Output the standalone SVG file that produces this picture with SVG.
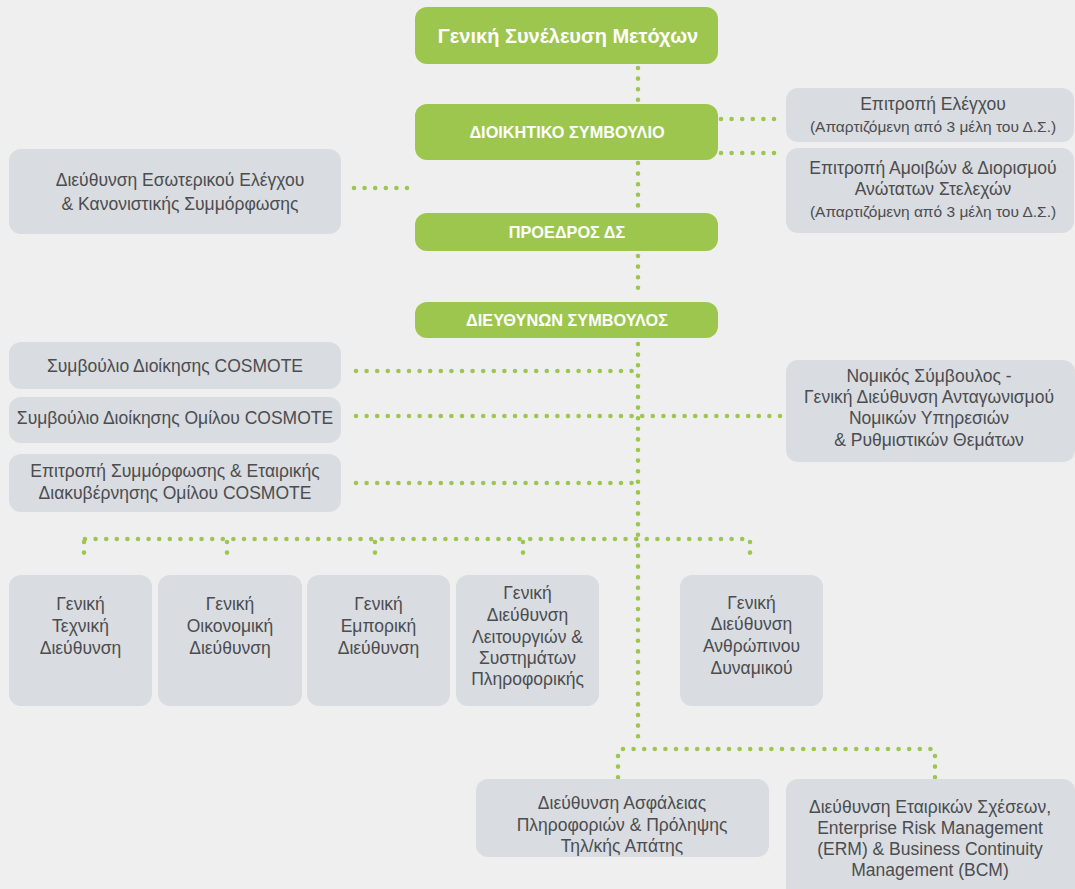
<svg xmlns="http://www.w3.org/2000/svg" width="1075" height="889" viewBox="0 0 1075 889">
<style>
.g{fill:#9dc64e}
.b{fill:#d9dce0}
.tw{font-family:"Liberation Sans",Arial,sans-serif;font-weight:bold;fill:#ffffff;text-anchor:middle}
.t{font-family:"Liberation Sans",Arial,sans-serif;font-size:17.5px;fill:#4b4d50;text-anchor:middle}
.s{font-size:15.5px}
.d{stroke:#9dc64e;stroke-width:4.6;stroke-linecap:round;stroke-dasharray:0 10.6;fill:none}
</style>
<rect width="1075" height="889" fill="#efefef"/>
<g id="connectors">
<line class="d" x1="638" y1="68" x2="638" y2="102"/>
<line class="d" x1="638" y1="163" x2="638" y2="210"/>
<line class="d" x1="638" y1="256" x2="638" y2="298"/>
<line class="d" x1="638" y1="344" x2="638" y2="743"/>
<line class="d" x1="721" y1="119" x2="776" y2="119"/>
<line class="d" x1="721" y1="153" x2="776" y2="153"/>
<line class="d" x1="354" y1="188" x2="412" y2="188"/>
<line class="d" x1="356" y1="371" x2="632" y2="371"/>
<line class="d" x1="356" y1="416" x2="781" y2="416"/>
<line class="d" x1="356" y1="483" x2="632" y2="483"/>
<line class="d" x1="85" y1="539" x2="750" y2="539"/>
<line class="d" x1="84" y1="542" x2="84" y2="563"/>
<line class="d" x1="227" y1="542" x2="227" y2="563"/>
<line class="d" x1="375" y1="542" x2="375" y2="563"/>
<line class="d" x1="523" y1="542" x2="523" y2="563"/>
<line class="d" x1="750" y1="542" x2="750" y2="563"/>
<line class="d" x1="623" y1="749" x2="935" y2="749"/>
<line class="d" x1="618" y1="756" x2="618" y2="778"/>
<line class="d" x1="935" y1="756" x2="935" y2="778"/>
</g>
<g id="gsm">
<rect class="g" x="415" y="7" width="303" height="57" rx="12"/>
<text class="tw" x="568" y="42.5" font-size="20">Γενική Συνέλευση Μετόχων</text>
</g>
<g id="ds">
<rect class="g" x="415" y="104" width="303" height="56" rx="12"/>
<text class="tw" x="567" y="138" font-size="16.3">ΔΙΟΙΚΗΤΙΚΟ ΣΥΜΒΟΥΛΙΟ</text>
</g>
<g id="proedros">
<rect class="g" x="415" y="213" width="303" height="38" rx="12"/>
<text class="tw" x="567" y="238" font-size="16.3">ΠΡΟΕΔΡΟΣ ΔΣ</text>
</g>
<g id="ceo">
<rect class="g" x="415" y="302" width="303" height="36" rx="12"/>
<text class="tw" x="567" y="326" font-size="16.3">ΔΙΕΥΘΥΝΩΝ ΣΥΜΒΟΥΛΟΣ</text>
</g>
<g id="elegxou">
<rect class="b" x="786" y="88" width="288" height="54" rx="12"/>
<text class="t" x="933" y="110">Επιτροπή Ελέγχου</text>
<text class="t s" x="933" y="132">(Απαρτιζόμενη από 3 μέλη του Δ.Σ.)</text>
</g>
<g id="amoivon">
<rect class="b" x="786" y="148" width="288" height="85" rx="12"/>
<text class="t" x="933" y="174">Επιτροπή Αμοιβών &amp; Διορισμού</text>
<text class="t" x="933" y="195">Ανώτατων Στελεχών</text>
<text class="t s" x="933" y="217">(Απαρτιζόμενη από 3 μέλη του Δ.Σ.)</text>
</g>
<g id="esoterikou">
<rect class="b" x="9" y="149" width="332" height="85" rx="12"/>
<text class="t" x="180" y="186">Διεύθυνση Εσωτερικού Ελέγχου</text>
<text class="t" x="180" y="210">&amp; Κανονιστικής Συμμόρφωσης</text>
</g>
<g id="sd-cosmote">
<rect class="b" x="9" y="342" width="332" height="47" rx="12"/>
<text class="t" x="175" y="372">Συμβούλιο Διοίκησης COSMOTE</text>
</g>
<g id="sd-omilou">
<rect class="b" x="9" y="397" width="332" height="46" rx="12"/>
<text class="t" x="175" y="424">Συμβούλιο Διοίκησης Ομίλου COSMOTE</text>
</g>
<g id="epitropi-symm">
<rect class="b" x="9" y="454" width="332" height="58" rx="12"/>
<text class="t" x="175" y="477">Επιτροπή Συμμόρφωσης &amp; Εταιρικής</text>
<text class="t" x="175" y="499">Διακυβέρνησης Ομίλου COSMOTE</text>
</g>
<g id="nomikos">
<rect class="b" x="786" y="360" width="289" height="102" rx="12"/>
<text class="t" x="929" y="382">Νομικός Σύμβουλος -</text>
<text class="t" x="929" y="403">Γενική Διεύθυνση Ανταγωνισμού</text>
<text class="t" x="929" y="424">Νομικών Υπηρεσιών</text>
<text class="t" x="929" y="446">&amp; Ρυθμιστικών Θεμάτων</text>
</g>
<g id="texniki">
<rect class="b" x="9" y="575" width="143" height="131" rx="12"/>
<text class="t" x="80.5" y="610">Γενική</text>
<text class="t" x="80.5" y="632">Τεχνική</text>
<text class="t" x="80.5" y="654">Διεύθυνση</text>
</g>
<g id="oikonomiki">
<rect class="b" x="158" y="575" width="144" height="131" rx="12"/>
<text class="t" x="230" y="610">Γενική</text>
<text class="t" x="230" y="632">Οικονομική</text>
<text class="t" x="230" y="654">Διεύθυνση</text>
</g>
<g id="emporiki">
<rect class="b" x="307" y="575" width="143" height="131" rx="12"/>
<text class="t" x="378.5" y="610">Γενική</text>
<text class="t" x="378.5" y="632">Εμπορική</text>
<text class="t" x="378.5" y="654">Διεύθυνση</text>
</g>
<g id="pliroforiki">
<rect class="b" x="456" y="575" width="143" height="131" rx="12"/>
<text class="t" x="527.5" y="599">Γενική</text>
<text class="t" x="527.5" y="621">Διεύθυνση</text>
<text class="t" x="527.5" y="643">Λειτουργιών &amp;</text>
<text class="t" x="527.5" y="664">Συστημάτων</text>
<text class="t" x="527.5" y="685">Πληροφορικής</text>
</g>
<g id="anthropinou">
<rect class="b" x="680" y="575" width="143" height="131" rx="12"/>
<text class="t" x="751.5" y="609">Γενική</text>
<text class="t" x="751.5" y="630">Διεύθυνση</text>
<text class="t" x="751.5" y="652">Ανθρώπινου</text>
<text class="t" x="751.5" y="674">Δυναμικού</text>
</g>
<g id="asfaleias">
<rect class="b" x="476" y="779" width="293" height="78" rx="12"/>
<text class="t" x="622" y="809">Διεύθυνση Ασφάλειας</text>
<text class="t" x="622" y="831">Πληροφοριών &amp; Πρόληψης</text>
<text class="t" x="622" y="852">Τηλ/κής Απάτης</text>
</g>
<g id="etairikon">
<rect class="b" x="786" y="779" width="289" height="120" rx="12"/>
<text class="t" x="930" y="813">Διεύθυνση Εταιρικών Σχέσεων,</text>
<text class="t" x="930" y="834">Enterprise Risk Management</text>
<text class="t" x="930" y="855">(ERM) &amp; Business Continuity</text>
<text class="t" x="930" y="876">Management (BCM)</text>
</g>
</svg>
